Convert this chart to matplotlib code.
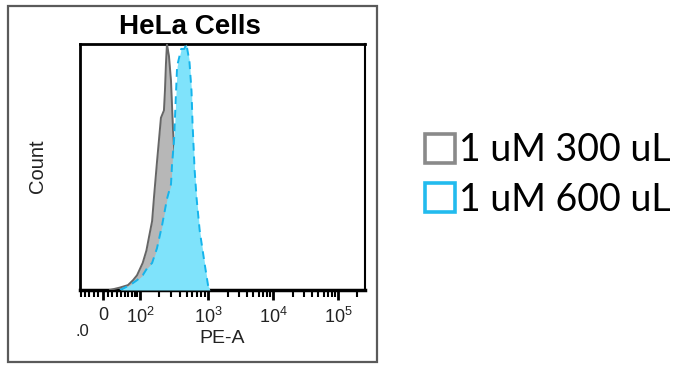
import numpy as np
import matplotlib
matplotlib.use("Agg")
import matplotlib.pyplot as plt
from matplotlib.patches import Rectangle, Patch
from matplotlib.ticker import FixedLocator, FixedFormatter

# ---------------- data (PE-A value, % of max count) ----------------
title = "HeLa Cells"
series_labels = ["1 uM 300 uL", "1 uM 600 uL"]
x_label = "PE-A"
y_label = "Count"

gray_pe = [14.7, 37.5, 58.8, 74.6, 88.5, 110.7, 126.7, 140.3, 155.3, 166.2, 183.9,
           196.9, 210.6, 233.2, 241.2, 249.5, 258.1, 276.2, 295.5, 316.2, 350.0,
           387.5, 443.7, 508.1, 601.7, 712.8, 843.0]
gray_count = [0, 1, 2, 4, 6, 11, 16, 22, 28, 38, 52,
              61, 70, 73, 81, 92, 100, 95, 85, 65, 45,
              28, 15, 7, 3, 0.5, 0]

cyan_pe = [37.5, 50.4, 64.8, 88.5, 110.7, 131.1, 155.3, 183.9, 217.8, 258.1, 295.5,
           305.7, 327.1, 350.0, 362.2, 414.6, 459.1, 491.2, 543.6, 581.8, 601.7,
           644.0, 689.0, 762.7, 903.4, 1000.0, 1070.0]
cyan_count = [0, 1, 2, 4, 6, 9, 11, 17, 26, 37, 43,
              51, 61, 81, 91, 98, 98, 100, 93, 81, 68,
              49, 37, 24, 10, 2, 0]

major_ticks = [0, 1e2, 1e3, 1e4, 1e5]
major_labels = ["0", r"$\mathregular{10^2}$", r"$\mathregular{10^3}$",
                r"$\mathregular{10^4}$", r"$\mathregular{10^5}$"]
minor_ticks = ([-50, -40, -30, -20, -10, 10, 20, 30, 40, 50, 60, 70, 80, 90]
               + [m * 10 ** e for e in (2, 3, 4) for m in range(2, 10)] + [2e5])

# ---------------- biexponential-like display scale ----------------
scale_vals = np.array([-53.0, 0.0, 100.0, 1e3, 1e4, 1e5, 262144.0])
scale_pos = np.array([0.0, 23.0, 60.0, 128.0, 193.0, 258.0, 285.0])
W = 60.0


def fwd(x):
    x = np.asarray(x, dtype=float)
    return np.interp(np.arcsinh(x / W), np.arcsinh(scale_vals / W), scale_pos)


def inv(p):
    p = np.asarray(p, dtype=float)
    return W * np.sinh(np.interp(p, scale_pos, np.arcsinh(scale_vals / W)))


plt.rcParams["font.family"] = ["Liberation Sans", "DejaVu Sans"]
plt.rcParams["mathtext.fontset"] = "custom"
plt.rcParams["mathtext.rm"] = "Liberation Sans"
plt.rcParams["mathtext.it"] = "Liberation Sans:italic"
plt.rcParams["mathtext.bf"] = "Liberation Sans:bold"

W_PX, H_PX = 693, 371
fig = plt.figure(figsize=(W_PX / 100, H_PX / 100), dpi=100)

# outer frame
fig.patches.append(Rectangle((8 / W_PX, 9 / H_PX), 369 / W_PX, 356 / H_PX,
                             transform=fig.transFigure, fill=False,
                             edgecolor="#5a5a5a", linewidth=1.6))

ax = fig.add_axes([80 / W_PX, 81 / H_PX, 285 / W_PX, 246 / H_PX])
ax.set_xscale("function", functions=(fwd, inv))
ax.set_xlim(scale_vals[0], scale_vals[-1])
ax.set_ylim(0, 100)

gray_fill = "#b7b7b7"
gray_edge = "#666666"
cyan_fill = "#7fe3fb"
cyan_edge = "#14b4ec"

ax.fill_between(gray_pe, gray_count, color=gray_fill, linewidth=0, zorder=2)
ax.plot(gray_pe, gray_count, color=gray_edge, linewidth=1.4, zorder=3)
ax.fill_between(cyan_pe, cyan_count, color=cyan_fill, linewidth=0, zorder=4)
ax.plot(cyan_pe, cyan_count, color=cyan_edge, linewidth=1.4, dashes=(4, 3), zorder=5)

ax.xaxis.set_major_locator(FixedLocator(major_ticks))
ax.xaxis.set_major_formatter(FixedFormatter(major_labels))
ax.xaxis.set_minor_locator(FixedLocator(minor_ticks))
ax.tick_params(axis="x", which="major", direction="out", length=7.5, width=2,
               color="black", labelsize=13, labelcolor="#222222", pad=4.5)
ax.tick_params(axis="x", which="minor", direction="out", length=5, width=1.5,
               color="black")
ax.set_yticks([])

for s, lw in (("left", 2.0), ("top", 2.0), ("right", 1.5), ("bottom", 2.5)):
    ax.spines[s].set_linewidth(lw)
    ax.spines[s].set_color("black")

ax.set_xlabel(x_label, fontsize=14, color="#222222", labelpad=2)
fig.text(38 / W_PX, 1 - 166 / H_PX, y_label, rotation=90, fontsize=14.5,
         color="#222222", ha="center", va="center")
fig.text(190 / W_PX, 1 - 27 / H_PX, title, fontsize=20, fontweight="bold",
         ha="center", va="center", color="black")
fig.text(82 / W_PX, 1 - 331 / H_PX, ".0", fontsize=12, color="#222222",
         ha="center", va="center")

handles = [Patch(facecolor="none", edgecolor="#8a8a8a", linewidth=2.6),
           Patch(facecolor="none", edgecolor="#22bbee", linewidth=2.6)]
leg = fig.legend(handles, series_labels, loc="center left",
                 bbox_to_anchor=(425 / W_PX, 1 - 175 / H_PX), frameon=False,
                 prop={"family": ["Lato", "DejaVu Sans"], "size": 27},
                 handlelength=0.8, handleheight=0.8, handletextpad=0.1,
                 labelspacing=0.35, borderpad=0, borderaxespad=0)

fig.savefig("out.png", dpi=100)
